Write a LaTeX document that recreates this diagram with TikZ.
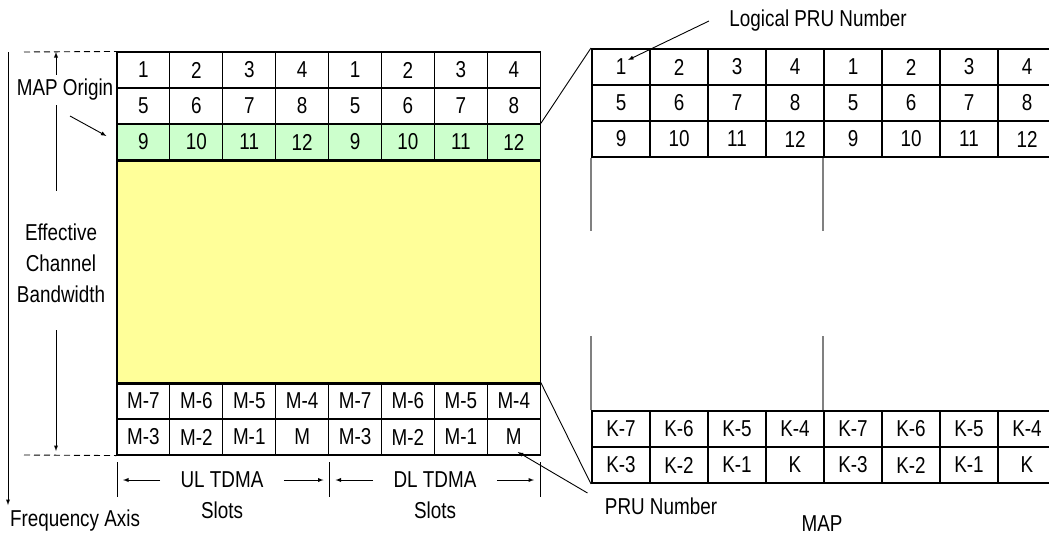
\documentclass[tikz,border=0pt]{standalone}
\usepackage{fontspec}
\setmainfont[FakeStretch=0.82]{Liberation Sans}
\usetikzlibrary{calc}
\usetikzlibrary{positioning}
\definecolor{lightGreen}{HTML}{ccffcc}
\definecolor{lightYellow}{HTML}{ffff99}
\definecolor{stubGray}{HTML}{808080}
\tikzset{
    slotcell/.style={rectangle, draw, line width=1.1pt, minimum width=\slotW pt, minimum height=\slotH pt},
    mapcell/.style={rectangle, draw, line width=2pt, minimum width=\mapW pt, minimum height=\mapH pt},
    guide/.style={dash pattern=on 6pt off 4pt, line width=0.9pt}
}
\begin{document}
\begin{tikzpicture}[x=1pt, y=-1pt, inner sep=0.0 pt, align=center, line width=0.9pt, font=\fontsize{23}{31}\selectfont]
    \useasboundingbox (0,0) rectangle (1049,536);
    \pgfmathsetmacro{\slotW}{52.9}
    \pgfmathsetmacro{\slotH}{36}
    \pgfmathsetmacro{\mapW}{58}
    \pgfmathsetmacro{\mapH}{36}

    % frame: PRU numbers, upper rows
    \foreach \c in {1,...,8} {
        \pgfmathtruncatemacro{\n}{mod(\c-1,4)+1}
        \pgfmathtruncatemacro{\nn}{\n+4}
        \pgfmathtruncatemacro{\nnn}{\n+8}
        \node (slot_\c_1) [slotcell] at (117+\c*\slotW-0.5*\slotW, 70) {\n};
        \node (slot_\c_2) [slotcell] at (117+\c*\slotW-0.5*\slotW, 106) {\nn};
        \node (slot_\c_3) [slotcell, fill=lightGreen] at (117+\c*\slotW-0.5*\slotW, 142) {\nnn};
    }

    \node (band) [draw, line width=1.1pt, fill=lightYellow, minimum width=8*\slotW pt, minimum height=223pt, anchor=north west] at (slot_1_3.south west) {};

    % frame: PRU numbers, lower rows
    \foreach \c/\upper/\lower in {1/M-7/M-3, 2/M-6/M-2, 3/M-5/M-1, 4/M-4/M, 5/M-7/M-3, 6/M-6/M-2, 7/M-5/M-1, 8/M-4/M} {
        \node (slotb_\c_1) [slotcell] at (117+\c*\slotW-0.5*\slotW, 401) {\upper};
        \node (slotb_\c_2) [slotcell] at (117+\c*\slotW-0.5*\slotW, 437) {\lower};
    }

    % MAP: logical PRU numbers
    \foreach \c in {1,...,8} {
        \pgfmathtruncatemacro{\n}{mod(\c-1,4)+1}
        \pgfmathtruncatemacro{\nn}{\n+4}
        \pgfmathtruncatemacro{\nnn}{\n+8}
        \node (map_\c_1) [mapcell] at (592+\c*\mapW-0.5*\mapW, 67) {\n};
        \node (map_\c_2) [mapcell] at (592+\c*\mapW-0.5*\mapW, 103) {\nn};
        \node (map_\c_3) [mapcell] at (592+\c*\mapW-0.5*\mapW, 139) {\nnn};
    }
    \foreach \c/\upper/\lower in {1/K-7/K-3, 2/K-6/K-2, 3/K-5/K-1, 4/K-4/K, 5/K-7/K-3, 6/K-6/K-2, 7/K-5/K-1, 8/K-4/K} {
        \node (mapb_\c_1) [mapcell] at (592+\c*\mapW-0.5*\mapW, 429) {\upper};
        \node (mapb_\c_2) [mapcell] at (592+\c*\mapW-0.5*\mapW, 465) {\lower};
    }

    \draw [stubGray, line width=2pt] (map_1_3.south west) -- ++(0,73);
    \draw [stubGray, line width=2pt] (map_5_3.south west) -- ++(0,73);
    \draw [stubGray, line width=2pt] (mapb_1_1.north west) -- ++(0,-74);
    \draw [stubGray, line width=2pt] (mapb_5_1.north west) -- ++(0,-74);

    \draw (slot_8_3.north east) -- (map_1_1.north west);
    \draw (slotb_8_1.north east) -- (mapb_1_2.south west);

    % left side
    \coordinate (dash_top) at (24,52);
    \coordinate (dash_bot) at (24,455);
    \draw [guide] (dash_top) -- (slot_1_1.north west);
    \draw [guide] (dash_bot) -- (slotb_1_2.south west);

    \coordinate (axis_top) at (8,52);
    \coordinate (axis_end) at (8,505);
    \draw [-latex] (axis_top) -- (axis_end);
    \node (freq_label) at (75,521) {Frequency Axis};

    \node (origin_label) [inner sep=4pt] at (65,90) {MAP Origin};
    \coordinate (origin_tip) at (56,52);
    \draw [-latex] (origin_tip |- origin_label.north) -- (origin_tip);
    \coordinate (bw_upper) at (56,191);
    \draw (origin_tip |- origin_label.south) -- (bw_upper);
    \node (bw_label) at (61,263) {Effective\\Channel\\Bandwidth};
    \coordinate (bw_lower) at (56,330);
    \coordinate (bw_tip) at (56,451);
    \draw [-latex] (bw_lower) -- (bw_tip);

    \coordinate (origin_from) at (70,116);
    \draw [-latex] (origin_from) -- ([shift={(-10,-6)}]slot_1_3.west);

    % TDMA slots
    \coordinate (tick_ul) at (117,462);
    \coordinate (tick_mid) at (329.5,462);
    \coordinate (tick_dl) at (540,462);
    \draw (tick_ul) -- ++(0,35);
    \draw (tick_mid) -- ++(0,35);
    \draw (tick_dl) -- ++(0,35);

    \node (ul_tdma) at (222,480) {UL TDMA};
    \node (ul_slots) at (222,510) {Slots};
    \node (dl_tdma) at (435,480) {DL TDMA};
    \node (dl_slots) at (435,510) {Slots};
    \coordinate (ul_l) at (123,480);
    \coordinate (ul_r) at (323.5,480);
    \coordinate (dl_l) at (335.5,480);
    \coordinate (dl_r) at (534,480);
    \draw [-latex] ([xshift=-20pt]ul_tdma.west) -- (ul_l);
    \draw [-latex] ([xshift=20pt]ul_tdma.east) -- (ul_r);
    \draw [-latex] ([xshift=-20pt]dl_tdma.west) -- (dl_l);
    \draw [-latex] ([xshift=20pt]dl_tdma.east) -- (dl_r);

    % MAP labels
    \node (lpru_label) at (818,21) {Logical PRU Number};
    \draw [-latex] ([xshift=-20pt]lpru_label.west) -- ([shift={(7,-7)}]map_1_1.center);
    \node (pru_label) at (661,506) {PRU Number};
    \draw [-latex] ([shift={(-17,-13)}]pru_label.west) -- ([shift={(4,15)}]slotb_8_2.center);
    \node (map_label) at (822,524) {MAP};
\end{tikzpicture}
\end{document}
